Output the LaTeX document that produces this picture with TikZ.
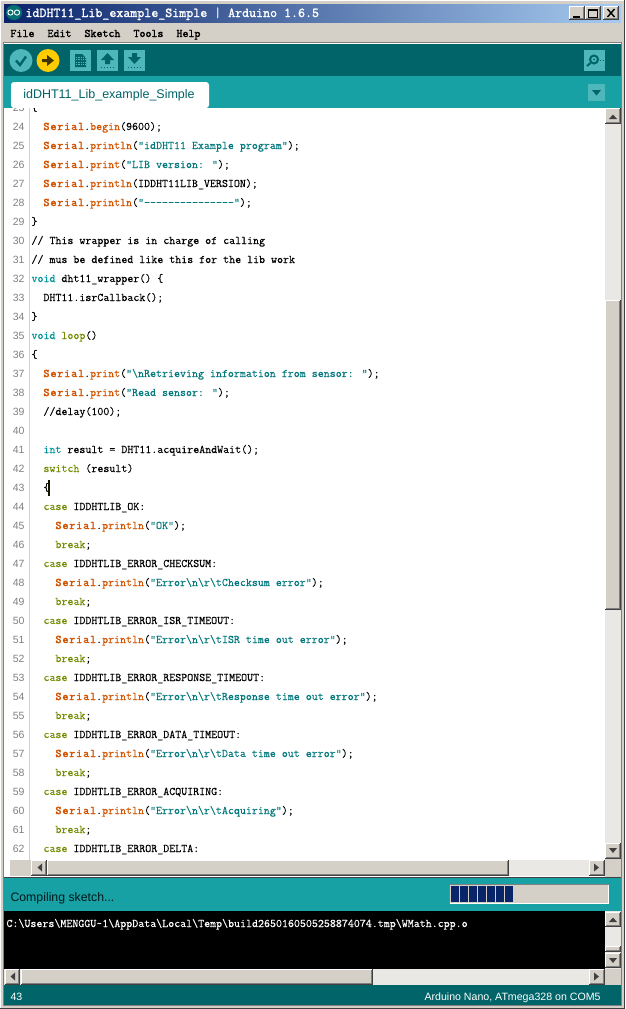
\documentclass[tikz,border=0pt]{standalone}
\usepackage{fontspec}
\setmainfont{Liberation Sans}
\newfontface\codefont{Latin Modern Mono}[FakeBold=.2]
\newfontface\codebold{Latin Modern Mono}[FakeBold=1.6]
\newfontface\serfont{Latin Modern Mono}[FakeBold=2.6,LetterSpace=8.2]
\definecolor{winframe}{HTML}{D4D0C8}
\definecolor{windither}{HTML}{EAE8E4}
\definecolor{winshade}{HTML}{404040}
\definecolor{winmid}{HTML}{808080}
\definecolor{ardark}{HTML}{006468}
\definecolor{arteal}{HTML}{17A1A5}
\definecolor{arbtn}{HTML}{4DB7BB}
\definecolor{aryellow}{HTML}{FFCC00}
\definecolor{arnavy}{HTML}{0A246A}
\definecolor{arsky}{HTML}{A6CAF0}
\definecolor{cser}{HTML}{D35400}
\definecolor{ckw}{HTML}{728E00}
\definecolor{ctype}{HTML}{00979C}
\definecolor{cstr}{HTML}{00797D}
\definecolor{ctxt}{HTML}{000000}
\newcommand{\Ser}{\textcolor{cser}{{\serfont\fontsize{11.63}{11}\selectfont Serial}}}
\newcommand{\Fn}[1]{\textcolor{cser}{#1}}
\newcommand{\Kw}[1]{\textcolor{ckw}{#1}}
\newcommand{\Ty}[1]{\textcolor{ctype}{#1}}
\newcommand{\St}[1]{\textcolor{cstr}{#1}}
\newcommand{\bs}{\textbackslash}
% raised windows button
\newcommand{\winbtn}[4]{%
  \fill[winframe](#1,#2)rectangle(#3,#4);
  \draw[white](#1+.5,#4-1)--(#1+.5,#2+.5)--(#3-1,#2+.5);
  \draw[winmid](#1+1,#4-1.5)--(#3-1.5,#4-1.5)--(#3-1.5,#2+1);
  \draw[winshade](#1,#4-.5)--(#3-.5,#4-.5)--(#3-.5,#2);
}
\tikzset{
  codeline/.style={anchor=base west,inner sep=0pt,text=ctxt,font=\codefont\fontsize{11.63}{11}\selectfont},
  lineno/.style={anchor=base east,inner sep=0pt,text=winmid,font=\fontsize{10.5}{10}\selectfont},
  menuitem/.style={anchor=base west,inner sep=0pt,text=black,font=\codebold\fontsize{11.63}{11}\selectfont},
  toolbtn/.style={fill=arbtn},
}
\begin{document}
\begin{tikzpicture}[x=1pt,y=-1pt,line width=1pt]
  \useasboundingbox(0,0)rectangle(625,1009);
  % window frame
  \fill[winframe](0,0)rectangle(625,1009);
  \draw[winshade](0,1008.5)--(624.5,1008.5)--(624.5,0);
  \draw[white](.5,1008)--(.5,.5)--(624,.5);
  \draw[winmid](3.5,42)--(3.5,1005.5)--(621.5,1005.5)--(621.5,42);
  % title bar
  \shade[left color=arnavy,right color=arsky](4,4)rectangle(621,22);
  \fill[ardark!80!arteal](14,12.5)circle[x radius=8,y radius=7.5];
  \draw[white,line width=.9pt](10.5,12.5)circle[radius=2.6];
  \draw[white,line width=.9pt](17,12.5)circle[radius=2.6];
  \node[anchor=base west,inner sep=0pt,text=white] (title) at (25,17)
    {\codebold\fontsize{13.57}{12}\selectfont idDHT11\_Lib\_example\_Simple | Arduino 1.6.5};
  \winbtn{569}{6}{585}{20}
  \winbtn{585}{6}{601}{20}
  \winbtn{603}{6}{619}{20}
  \fill[black](573,15.5)rectangle(580,17.5);
  \draw[black](588.5,9.5)rectangle(597.5,17.5);
  \fill[black](588,8.5)rectangle(598,10.5);
  \draw[black,line width=1.4pt](607.5,9)--(614.5,17)(614.5,9)--(607.5,17);
  % menu
  \foreach \x/\m in{10/File, 47/Edit, 84/Sketch, 133/Tools, 176/Help}{%
    \node[menuitem] (menu\m) at (\x,37) {\m};
  }
  \draw[winmid](4,42.5)--(621,42.5);
  \draw[white](4,43.5)--(621,43.5);
  % toolbar
  \fill[ardark](4,44)rectangle(621,76);
  \fill[toolbtn](21,60.5)circle[radius=11.5];
  \fill[aryellow](48,60.5)circle[radius=11.5];
  \draw[ardark,line width=2.4pt](16,60.5)--(20,65)--(26,56.5);
  \fill[black!75!aryellow](42,59)--(47,59)--(47,55)--(54,60.5)--(47,66)--(47,62)--(42,62)--cycle;
  \foreach \x in{70,97,124}{%
    \fill[toolbtn](\x,50)rectangle(\x+21,71);
  }
  \fill[ardark](75,54)--(82,54)--(86,58)--(86,67)--(75,67)--cycle;
  \foreach \y in{57,59.5,62,64.5}{%
    \draw[arbtn,line width=.7pt,densely dotted](76,\y)--(85,\y);
  }
  \fill[ardark](107.5,53)--(114,60)--(110,60)--(110,64)--(105,64)--(105,60)--(101,60)--cycle;
  \draw[ardark,dotted](101,67.5)--(114,67.5);
  \fill[ardark](134.5,64)--(141,57)--(137,57)--(137,53)--(132,53)--(132,57)--(128,57)--cycle;
  \draw[ardark,dotted](128,67.5)--(141,67.5);
  \fill[toolbtn](584,50)rectangle(605,71);
  \draw[ardark,line width=2pt](594,59.5)circle[radius=4];
  \fill[ardark](594,59.5)circle[radius=1];
  \draw[ardark,line width=2pt](590.5,63)--(587,66);
  \draw[ardark,dotted](599.5,60.5)--(603,60.5);
  % tab bar
  \fill[arteal](4,76)rectangle(621,108);
  \fill[white,rounded corners=3pt](11,108)--(11,82)--(209,82)--(209,108)--cycle;
  \node[anchor=base,inner sep=0pt,text=ardark,font=\fontsize{12.5}{12}\selectfont] (tabname) at (109,98.5)
    {idDHT11\_Lib\_example\_Simple};
  \fill[toolbtn](588,84)rectangle(605,101);
  \fill[ardark](592,90)--(601,90)--(596.5,95.5)--cycle;
  % editor
  \fill[white](4,108)rectangle(605,877);
  \draw[winframe](29.5,108)--(29.5,860);
  \begin{scope}
    \clip(4,108)rectangle(605,860);
    \foreach \n/\t in{%
      23/{\{},
      24/{\ \ \Ser.\Fn{begin}(9600);},
      25/{\ \ \Ser.\Fn{println}(\St{"idDHT11 Example program"});},
      26/{\ \ \Ser.\Fn{print}(\St{"LIB version: "});},
      27/{\ \ \Ser.\Fn{println}(IDDHT11LIB\_VERSION);},
      28/{\ \ \Ser.\Fn{println}(\St{"---------------"});},
      29/{\}},
      30/{// This wrapper is in charge of calling},
      31/{// mus be defined like this for the lib work},
      32/{\Ty{void} dht11\_wrapper() \{},
      33/{\ \ DHT11.isrCallback();},
      34/{\}},
      35/{\Ty{void} \Kw{loop}()},
      36/{\{},
      37/{\ \ \Ser.\Fn{print}(\St{"\bs nRetrieving information from sensor: "});},
      38/{\ \ \Ser.\Fn{print}(\St{"Read sensor: "});},
      39/{\ \ //delay(100);},
      40/{},
      41/{\ \ \Ty{int} result = DHT11.acquireAndWait();},
      42/{\ \ \Kw{switch} (result)},
      43/{\ \ \{},
      44/{\ \ \Kw{case} IDDHTLIB\_OK:},
      45/{\ \ \ \ \Ser.\Fn{println}(\St{"OK"});},
      46/{\ \ \ \ \Kw{break};},
      47/{\ \ \Kw{case} IDDHTLIB\_ERROR\_CHECKSUM:},
      48/{\ \ \ \ \Ser.\Fn{println}(\St{"Error\bs n\bs r\bs tChecksum error"});},
      49/{\ \ \ \ \Kw{break};},
      50/{\ \ \Kw{case} IDDHTLIB\_ERROR\_ISR\_TIMEOUT:},
      51/{\ \ \ \ \Ser.\Fn{println}(\St{"Error\bs n\bs r\bs tISR time out error"});},
      52/{\ \ \ \ \Kw{break};},
      53/{\ \ \Kw{case} IDDHTLIB\_ERROR\_RESPONSE\_TIMEOUT:},
      54/{\ \ \ \ \Ser.\Fn{println}(\St{"Error\bs n\bs r\bs tResponse time out error"});},
      55/{\ \ \ \ \Kw{break};},
      56/{\ \ \Kw{case} IDDHTLIB\_ERROR\_DATA\_TIMEOUT:},
      57/{\ \ \ \ \Ser.\Fn{println}(\St{"Error\bs n\bs r\bs tData time out error"});},
      58/{\ \ \ \ \Kw{break};},
      59/{\ \ \Kw{case} IDDHTLIB\_ERROR\_ACQUIRING:},
      60/{\ \ \ \ \Ser.\Fn{println}(\St{"Error\bs n\bs r\bs tAcquiring"});},
      61/{\ \ \ \ \Kw{break};},
      62/{\ \ \Kw{case} IDDHTLIB\_ERROR\_DELTA:}}{%
      \pgfmathsetmacro{\yy}{130+(\n-24)*19}
      \node[lineno] (num\n) at (25,\yy) {\n};
      \node[codeline] (code\n) at (31,\yy) {\t};
    }
  \end{scope}
  \fill[black!85!ckw](48,480)rectangle(50,496);
  % editor scrollbars
  \fill[windither](605,108)rectangle(621,860);
  \winbtn{605}{108}{621}{124}
  \fill[winshade](609,119)--(617,119)--(613,114.5)--cycle;
  \winbtn{605}{300}{621}{610}
  \winbtn{605}{843}{621}{859}
  \fill[winshade](609,848)--(617,848)--(613,853)--cycle;
  \fill[winframe](605,859)rectangle(621,877);
  \fill[windither](31,860)rectangle(605,876);
  \fill[winframe](10,860)rectangle(31,876);
  \winbtn{31}{860}{47}{876}
  \fill[winshade](42,863.5)--(42,871.5)--(37.5,867.5)--cycle;
  \winbtn{47}{860}{509}{876}
  \winbtn{589}{860}{605}{876}
  \fill[winshade](594,863.5)--(594,871.5)--(599,867.5)--cycle;
  % status band
  \draw[winshade](4,877.5)--(621,877.5);
  \fill[arteal](4,878)rectangle(621,911);
  \node[anchor=base west,inner sep=0pt,text=black!75!ardark,font=\fontsize{12.3}{12}\selectfont] (status) at (10,901)
    {Compiling sketch...};
  \fill[winframe](449,884)rectangle(609,904);
  \draw[winmid](449.5,904)--(449.5,884.5)--(609,884.5);
  \draw[white](450,903.5)--(608.5,903.5)--(608.5,885);
  \foreach \x in{0,...,6}{%
    \fill[arnavy](451+\x*9,886)rectangle(459+\x*9,902);
  }
  % console
  \fill[black](4,911)rectangle(605,969);
  \node[anchor=base west,inner sep=0pt,text=white,font=\codefont\fontsize{11.63}{11}\selectfont] (console) at (6,927)
    {C:\bs Users\bs MENGGU\textasciitilde 1\bs AppData\bs Local\bs Temp\bs build2650160505258874074.tmp\bs WMath.cpp.o};
  \fill[windither](605,911)rectangle(621,969);
  \winbtn{605}{912}{621}{927}
  \fill[winshade](609,922)--(617,922)--(613,917.5)--cycle;
  \winbtn{605}{946}{621}{952}
  \winbtn{605}{953}{621}{968}
  \fill[winshade](609,958)--(617,958)--(613,963)--cycle;
  \fill[windither](4,969)rectangle(605,985);
  \winbtn{5}{969}{20}{985}
  \fill[winshade](15,972.5)--(15,980.5)--(10.5,976.5)--cycle;
  \winbtn{21}{969}{373}{985}
  \winbtn{589}{969}{605}{985}
  \fill[winshade](594,972.5)--(594,980.5)--(599,976.5)--cycle;
  \fill[winframe](605,969)rectangle(621,985);
  % footer
  \fill[ardark](4,985)rectangle(621,1005);
  \node[anchor=base west,inner sep=0pt,text=white,font=\fontsize{10.6}{10}\selectfont] (lineinfo) at (10,1000) {43};
  \node[anchor=base east,inner sep=0pt,text=white,font=\fontsize{10.6}{10}\selectfont] (boardinfo) at (601,1000)
    {Arduino Nano, ATmega328 on COM5};
\end{tikzpicture}
\end{document}
